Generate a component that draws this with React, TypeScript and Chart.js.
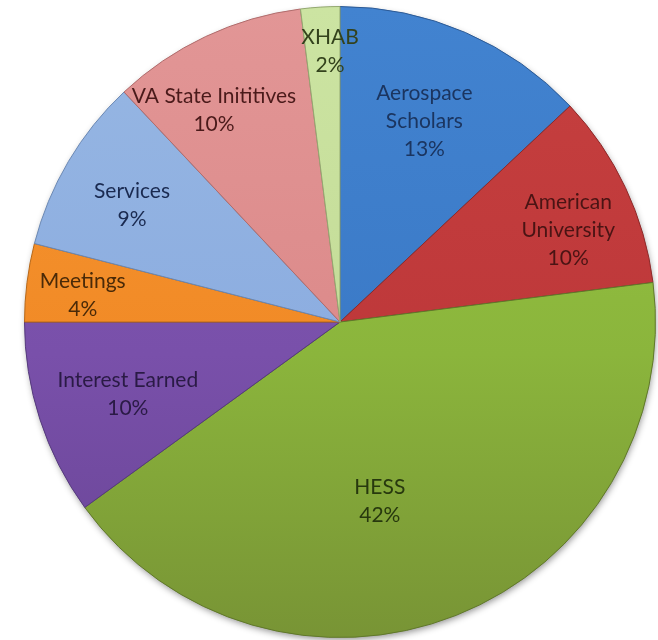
import { useEffect, useRef } from "react";
import { Chart, registerables } from "chart.js";

Chart.register(...registerables);

const categories = [
  "Aerospace Scholars",
  "American University",
  "HESS",
  "Interest Earned",
  "Meetings",
  "Services",
  "VA State Inititives",
  "XHAB",
];
const labelLines = [
  ["Aerospace", "Scholars"],
  ["American", "University"],
  ["HESS"],
  ["Interest Earned"],
  ["Meetings"],
  ["Services"],
  ["VA State Inititives"],
  ["XHAB"],
];
const percentages = [13, 10, 42, 10, 4, 9, 10, 2];

// styling (top / middle / bottom gradient stops), text colours
const colorTop = ["#4283d0", "#c6403f", "#98c843", "#8059b4", "#f69632", "#97b7e3", "#e29696", "#cce4a2"];
const colorMid = ["#3b7ac7", "#be383a", "#8bb53c", "#7950aa", "#f18a26", "#8cade0", "#dc8a8a", "#c4dc98"];
const colorBot = ["#316ab3", "#a93132", "#789435", "#684494", "#dc7b1e", "#7d9dcb", "#c97d7d", "#b0c886"];
const borderCols = ["#2c5a95", "#8e2a2a", "#60782a", "#553a7c", "#b86818", "#6a88b4", "#b06c6c", "#93a870"];
const textCols = ["#1b3560", "#4a1414", "#27380e", "#2a1a45", "#4a2a08", "#1a2a50", "#4a1a1a", "#33421c"];
// label placement: fraction of radius, angular nudge in degrees
const labelRadius = [0.69, 0.78, 0.583, 0.71, 0.82, 0.756, 0.78, 0.858];
const labelNudge = [-0.6, 3.2, 9.1, -0.7, -1.2, -1.3, -5.6, 1.5];

const FONT = "Lato";

const shadowPlugin = {
  id: "pieShadow",
  beforeDatasetsDraw(chart: any) {
    const meta = chart.getDatasetMeta(0);
    const arc = meta.data[0];
    if (!arc) return;
    const { x, y, outerRadius } = arc.getProps(["x", "y", "outerRadius"], true);
    const ctx = chart.ctx;
    ctx.save();
    ctx.shadowColor = "rgba(0,0,0,0.45)";
    ctx.shadowBlur = 7;
    ctx.shadowOffsetX = 1;
    ctx.shadowOffsetY = 3;
    ctx.fillStyle = "#777";
    ctx.beginPath();
    ctx.arc(x, y, outerRadius - 1, 0, Math.PI * 2);
    ctx.fill();
    ctx.restore();
  },
};

const labelPlugin = {
  id: "sliceLabels",
  afterDatasetsDraw(chart: any) {
    const meta = chart.getDatasetMeta(0);
    const ctx = chart.ctx;
    ctx.save();
    ctx.font = `21px ${FONT}`;
    ctx.textAlign = "center";
    ctx.textBaseline = "middle";
    const lineH = 28;
    meta.data.forEach((arc: any, i: number) => {
      const { x, y, startAngle, endAngle, outerRadius } = arc.getProps(
        ["x", "y", "startAngle", "endAngle", "outerRadius"],
        true
      );
      const mid = (startAngle + endAngle) / 2 + (labelNudge[i] * Math.PI) / 180;
      const r = outerRadius * labelRadius[i];
      const cx = x + Math.cos(mid) * r;
      const cy = y + Math.sin(mid) * r;
      const lines = [...labelLines[i], `${percentages[i]}%`];
      const top = cy - ((lines.length - 1) * lineH) / 2;
      ctx.fillStyle = textCols[i];
      lines.forEach((ln, k) => ctx.fillText(ln, cx, top + k * lineH));
    });
    ctx.restore();
  },
};

export default function App() {
  const ref = useRef<HTMLCanvasElement | null>(null);
  useEffect(() => {
    if (!ref.current) return;
    const chart = new Chart(ref.current, {
      type: "pie",
      data: {
        labels: categories,
        datasets: [
          {
            data: percentages,
            backgroundColor: (c: any) => {
              const i = c.dataIndex;
              const area = c.chart.chartArea;
              if (!area) return colorMid[i];
              const g = c.chart.ctx.createLinearGradient(0, area.top, 0, area.bottom);
              g.addColorStop(0, colorTop[i]);
              g.addColorStop(0.55, colorMid[i]);
              g.addColorStop(1, colorBot[i]);
              return g;
            },
            borderColor: borderCols,
            borderWidth: 1,
          },
        ],
      },
      options: {
        responsive: false,
        animation: false,
        layout: { padding: { left: 24, right: 2, top: 6, bottom: 2 } },
        plugins: {
          legend: { display: false },
          tooltip: { enabled: false },
        },
      },
      plugins: [shadowPlugin, labelPlugin],
    });
    return () => chart.destroy();
  }, []);
  return (
    <div style={{ position: "fixed", left: 0, top: 0, width: 658, height: 640, background: "#fff" }}>
      <canvas ref={ref} width={658} height={640} />
    </div>
  );
}
